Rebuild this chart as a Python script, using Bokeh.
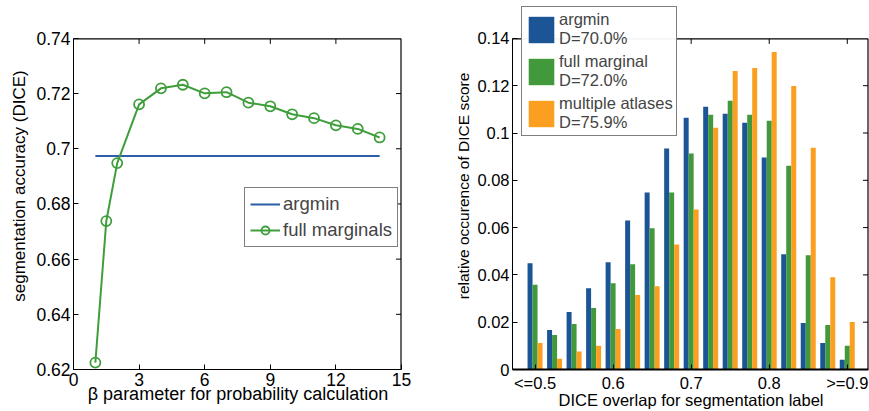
from bokeh.plotting import figure
from bokeh.layouts import row
from bokeh.models import FixedTicker, Range1d, Legend, LegendItem, ColumnDataSource
from bokeh.transform import dodge
from bokeh.embed import file_html
from bokeh.resources import INLINE

# ---------------- data: left panel ----------------
beta = [1, 1.5, 2, 3, 4, 5, 6, 7, 8, 9, 10, 11, 12, 13, 14]
full_marginals = [0.6225, 0.6738, 0.6948, 0.7161, 0.7219, 0.7232, 0.7201,
                  0.7205, 0.7167, 0.7154, 0.7125, 0.7111, 0.7085, 0.7072, 0.7041]
argmin_x = [1, 14]
argmin_acc = [0.6974, 0.6974]
left_xticks = [0, 3, 6, 9, 12, 15]
left_yticks = [0.62, 0.64, 0.66, 0.68, 0.7, 0.72, 0.74]
left_ytick_labels = ["0.62", "0.64", "0.66", "0.68", "0.7", "0.72", "0.74"]
left_xlim = (0, 15)
left_ylim = (0.62, 0.74)

# ---------------- data: right panel ----------------
bins = [0.5, 0.525, 0.55, 0.575, 0.6, 0.625, 0.65, 0.675, 0.7,
        0.725, 0.75, 0.775, 0.8, 0.825, 0.85, 0.875, 0.9]
argmin_freq = [0.0449, 0.0167, 0.0243, 0.0344, 0.0454, 0.0630, 0.0748, 0.0934, 0.1064,
               0.1111, 0.1081, 0.1043, 0.0896, 0.0487, 0.0197, 0.0112, 0.0041]
full_freq = [0.0358, 0.0146, 0.0192, 0.0260, 0.0365, 0.0445, 0.0597, 0.0748, 0.0913,
             0.1077, 0.1136, 0.1077, 0.1052, 0.0862, 0.0483, 0.0188, 0.0100]
multi_freq = [0.0112, 0.0045, 0.0076, 0.0100, 0.0171, 0.0315, 0.0352, 0.0529, 0.0677,
              0.1022, 0.1262, 0.1275, 0.1342, 0.1199, 0.0938, 0.0390, 0.0201]
hist_xticks = [0.5, 0.6, 0.7, 0.8, 0.9]
hist_xtick_labels = ["<=0.5", "0.6", "0.7", "0.8", ">=0.9"]
hist_yticks = [0, 0.02, 0.04, 0.06, 0.08, 0.1, 0.12, 0.14]
hist_ytick_labels = ["0", "0.02", "0.04", "0.06", "0.08", "0.1", "0.12", "0.14"]
hist_xlim = (0.4711, 0.9272)
hist_ylim = (0, 0.14)
legend_labels = ["argmin\nD=70.0%", "full marginal\nD=72.0%", "multiple atlases\nD=75.9%"]

FONT = "Liberation Sans"
BLUE_LINE = "#2a5ea6"
GREEN_LINE = "#3f9e3c"
BLUE = "#1b5595"
GREEN = "#41993b"
ORANGE = "#fa9f1f"

# frames run from y=FRAME_TOP to y=370; the axes box itself starts at y=38
FRAME_TOP, BOX_TOP, FRAME_BOTTOM = 2, 38, 370
BOX_H = FRAME_BOTTOM - BOX_TOP
EXT = (FRAME_BOTTOM - FRAME_TOP) / BOX_H
TICK = 5  # inward tick length in px
L_BOX_W, R_BOX_W = 328, 356


def style_axis(ax, size, ticks, overrides=None):
    ax.ticker = FixedTicker(ticks=ticks)
    ax.major_tick_in = TICK
    ax.major_tick_out = 0
    ax.minor_tick_line_color = None
    ax.axis_line_color = "black"
    ax.axis_line_width = 1
    ax.major_tick_line_color = "black"
    ax.major_label_text_font = FONT
    ax.major_label_text_font_size = size
    ax.major_label_text_color = "black"
    ax.axis_label_text_font = FONT
    ax.axis_label_text_font_style = "normal"
    ax.axis_label_text_color = "black"
    if overrides:
        ax.major_label_overrides = overrides


def mirror_box(p, xlim, ylim, xticks, yticks, px_x, px_y):
    # top and right spines of the axes box (shifted half a pixel inward so the
    # 1px lines fall on whole pixels), with inward ticks
    xs = xlim[1] - 0.5 * px_x
    ys = ylim[1] - 0.5 * px_y
    p.line([xlim[0], xs, xs], [ys, ys, ylim[0]],
           line_color="black", line_width=1.2)
    tx = [t for t in xticks if xlim[0] < t < xlim[1]]
    p.segment(x0=tx, y0=[ys] * len(tx), x1=tx, y1=[ys - TICK * px_y] * len(tx),
              line_color="black", line_width=1)
    ty = [t for t in yticks if ylim[0] < t < ylim[1]]
    p.segment(x0=[xs] * len(ty), y0=ty, x1=[xs - TICK * px_x] * len(ty), y1=ty,
              line_color="black", line_width=1)


# ---------------- left figure ----------------
l_px_x = (left_xlim[1] - left_xlim[0]) / L_BOX_W
l_px_y = (left_ylim[1] - left_ylim[0]) / BOX_H
p1 = figure(width=440, height=411, output_backend="svg", toolbar_location=None,
            x_range=Range1d(left_xlim[0], left_xlim[1] + l_px_x),
            y_range=Range1d(left_ylim[0], left_ylim[0] + (left_ylim[1] - left_ylim[0]) * EXT),
            min_border_left=73, min_border_right=38, min_border_top=FRAME_TOP,
            min_border_bottom=41)
p1.grid.visible = False
p1.outline_line_color = None

r_arg = p1.line(argmin_x, argmin_acc, line_color=BLUE_LINE, line_width=2)
r_full_l = p1.line(beta, full_marginals, line_color=GREEN_LINE, line_width=2)
r_full_m = p1.scatter(beta, full_marginals, marker="circle", size=10, fill_color=None,
                      line_color=GREEN_LINE, line_width=1.8)
mirror_box(p1, left_xlim, left_ylim, left_xticks, left_yticks, l_px_x, l_px_y)

style_axis(p1.xaxis[0], "17.5px", left_xticks)
style_axis(p1.yaxis[0], "17.5px", left_yticks, dict(zip(left_yticks, left_ytick_labels)))
p1.xaxis[0].bounds = left_xlim
p1.yaxis[0].bounds = left_ylim
p1.xaxis[0].axis_label = "\u03b2 parameter for probability calculation"
p1.xaxis[0].axis_label_text_font_size = "18px"
p1.xaxis[0].major_label_standoff = 3
p1.xaxis[0].axis_label_standoff = -5
p1.yaxis[0].axis_label = "segmentation accuracy (DICE)"
p1.yaxis[0].axis_label_text_font_size = "17px"
p1.yaxis[0].major_label_standoff = 3
p1.yaxis[0].axis_label_standoff = 4

leg1 = Legend(items=[LegendItem(label="argmin", renderers=[r_arg]),
                     LegendItem(label="full marginals", renderers=[r_full_l, r_full_m])],
              location=(171, 122), label_text_font=FONT, label_text_font_size="18.5px",
              glyph_width=30, glyph_height=20, label_standoff=3, padding=5, spacing=4,
              border_line_color="black", border_line_width=1.5, margin=0,
              label_height=20)
p1.add_layout(leg1, "center")

# ---------------- right figure ----------------
r_px_x = (hist_xlim[1] - hist_xlim[0]) / R_BOX_W
r_px_y = (hist_ylim[1] - hist_ylim[0]) / BOX_H
src = ColumnDataSource(dict(x=bins, a=argmin_freq, f=full_freq, m=multi_freq))
p2 = figure(width=429, height=411, output_backend="svg", toolbar_location=None,
            x_range=Range1d(hist_xlim[0], hist_xlim[1] + r_px_x),
            y_range=Range1d(hist_ylim[0], hist_ylim[0] + (hist_ylim[1] - hist_ylim[0]) * EXT),
            min_border_left=72, min_border_right=0, min_border_top=FRAME_TOP,
            min_border_bottom=41)
p2.grid.visible = False
p2.outline_line_color = None

W = 0.0064
rb = p2.vbar(x=dodge("x", -W, range=p2.x_range), top="a", width=W, source=src,
             fill_color=BLUE, line_color=None)
rg = p2.vbar(x=dodge("x", 0, range=p2.x_range), top="f", width=W, source=src,
             fill_color=GREEN, line_color=None)
ro = p2.vbar(x=dodge("x", W, range=p2.x_range), top="m", width=W, source=src,
             fill_color=ORANGE, line_color=None)
mirror_box(p2, hist_xlim, hist_ylim, hist_xticks, hist_yticks, r_px_x, r_px_y)

style_axis(p2.xaxis[0], "16.5px", hist_xticks, dict(zip(hist_xticks, hist_xtick_labels)))
style_axis(p2.yaxis[0], "16.5px", hist_yticks, dict(zip(hist_yticks, hist_ytick_labels)))
p2.xaxis[0].bounds = hist_xlim
p2.yaxis[0].bounds = hist_ylim
p2.xaxis[0].axis_line_width = 2
p2.xaxis[0].axis_label = "DICE overlap for segmentation label"
p2.xaxis[0].axis_label_text_font_size = "16.5px"
p2.xaxis[0].major_label_standoff = 4
p2.xaxis[0].axis_label_standoff = -4
p2.yaxis[0].axis_label = "relative occurence of DICE score"
p2.yaxis[0].axis_label_text_font_size = "15.5px"
p2.yaxis[0].major_label_standoff = 3
p2.yaxis[0].axis_label_standoff = 2

leg2 = Legend(items=[LegendItem(label=legend_labels[0], renderers=[rb]),
                     LegendItem(label=legend_labels[1], renderers=[rg]),
                     LegendItem(label=legend_labels[2], renderers=[ro])],
              location=(9, 233), label_text_font=FONT, label_text_font_size="16.5px",
              glyph_width=32, glyph_height=33, label_standoff=2, padding=3, spacing=4,
              border_line_color="black", border_line_width=1.5, margin=0,
              label_height=33, label_text_line_height=1.1)
p2.add_layout(leg2, "center")

layout = row(p1, p2)
open("out.html", "w").write(file_html(layout, INLINE))
